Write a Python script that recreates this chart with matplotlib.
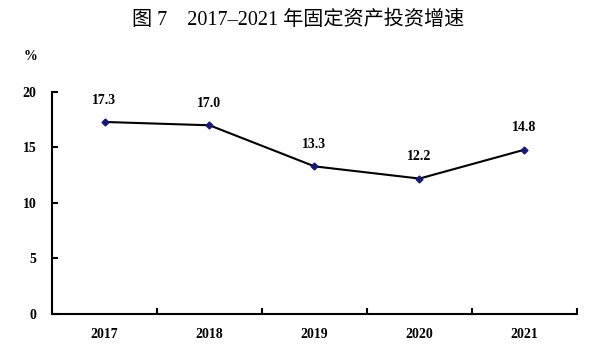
import matplotlib.pyplot as plt

years = ["2017", "2018", "2019", "2020", "2021"]
growth = [17.3, 17.0, 13.3, 12.2, 14.8]
yticks = [0, 5, 10, 15, 20]

serif = ["Liberation Serif", "Noto Sans CJK SC"]

fig = plt.figure(figsize=(6.09, 3.55), dpi=100)
ax = fig.add_axes([0.0854, 0.1155, 0.862, 0.6254])

x = list(range(len(years)))
ax.plot(x, growth, color="black", lw=1.5, marker="D", markersize=3.5,
        markerfacecolor="#1a1a6e", markeredgecolor="#1a1a6e", zorder=3)
for xi, v in zip(x, growth):
    ax.annotate(f"{v:.1f}", (xi, v), xytext=(0, 11), textcoords="offset points",
                ha="center", va="bottom", fontsize=10, fontweight="bold", family=serif)

ax.set_xlim(-0.5, len(years) - 0.5)
ax.set_ylim(0, 20)
ax.set_yticks(yticks)
ax.set_yticklabels([str(t) for t in yticks], family=serif, fontweight="bold", fontsize=10)
ax.set_xticks(x)
ax.set_xticklabels(years, family=serif, fontweight="bold", fontsize=10)
ax.tick_params(axis="x", length=0, pad=10)
ax.set_xticks([i + 0.5 for i in range(len(years))], minor=True)
ax.tick_params(axis="x", which="minor", direction="in", length=4, width=1.5)
ax.tick_params(axis="y", direction="in", length=4, width=1.5, pad=11)
for s in ["top", "right"]:
    ax.spines[s].set_visible(False)
for s in ["left", "bottom"]:
    ax.spines[s].set_linewidth(1.5)

fig.text(0.05, 0.83, "%", family=serif, fontweight="bold", fontsize=10, ha="center")
fig.suptitle("图 7    2017–2021 年固定资产投资增速", x=0.49, y=0.97, fontsize=14.5, family=serif)

fig.savefig("out.png", dpi=100)
